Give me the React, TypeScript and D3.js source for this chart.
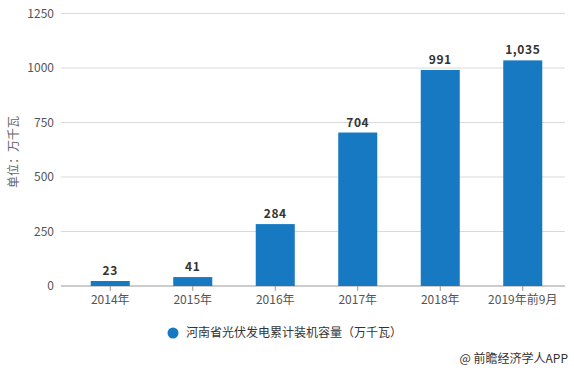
import React from 'react';
import * as d3 from 'd3';

const years = ['2014年', '2015年', '2016年', '2017年', '2018年', '2019年前9月'];
const capacity = [23, 41, 284, 704, 991, 1035];
const yTicks = [0, 250, 500, 750, 1000, 1250];
const seriesName = '河南省光伏发电累计装机容量（万千瓦）';
const unitLabel = '单位：万千瓦';
const sourceLabel = '@ 前瞻经济学人APP';

const W = 574;
const H = 370;
const FONT = '"Noto Sans CJK SC", "Microsoft YaHei", sans-serif';

const App = () => {
  // scales
  const x = d3.scaleBand<string>()
    .domain(years)
    .range([69, 564])
    .paddingInner(0.527)
    .paddingOuter(0.2635);

  const y = d3.scaleLinear()
    .domain([0, 1250])
    .range([286, 13.5]);

  const fmt = d3.format(',');

  return (
    <svg width={W} height={H} style={{ position: 'absolute', left: 0, top: 0, background: '#fff' }} fontFamily={FONT}>
      {/* gridlines */}
      {yTicks.map(t => (
        <line key={t} x1={61} x2={565} y1={y(t)} y2={y(t)}
          stroke={t === 0 ? '#999' : '#d9d9d9'} strokeWidth={1} />
      ))}
      {/* y tick labels */}
      {yTicks.map(t => (
        <text key={'l' + t} x={54} y={y(t)} dy="0.35em" textAnchor="end" fontSize={12} fill="#555">{t}</text>
      ))}
      {/* y axis title */}
      <text transform={`translate(14,152) rotate(-90)`} textAnchor="middle" dy="0.35em" fontSize={12} fill="#666">{unitLabel}</text>

      {/* bars */}
      {capacity.map((v, i) => (
        <rect key={years[i]} x={x(years[i])} y={y(v)} width={x.bandwidth()} height={y(0) - y(v)} fill="#1879c3" />
      ))}
      {/* value labels */}
      {capacity.map((v, i) => (
        <text key={'v' + i} x={(x(years[i]) as number) + x.bandwidth() / 2} y={y(v) - 6}
          textAnchor="middle" fontSize={12} fontWeight="bold" letterSpacing={0.6} fill="#333">{fmt(v)}</text>
      ))}
      {/* x ticks */}
      {years.map(c => {
        const cx = (x(c) as number) + x.bandwidth() / 2;
        return (
          <g key={'t' + c}>
            <line x1={cx} x2={cx} y1={286} y2={291} stroke="#999" />
            <text x={cx} y={300} dy="0.35em" textAnchor="middle" fontSize={12} fill="#555">{c}</text>
          </g>
        );
      })}

      {/* legend */}
      <circle cx={173} cy={333} r={5.5} fill="#1879c3" />
      <text x={186} y={333} dy="0.35em" fontSize={12} fill="#333">{seriesName}</text>

      {/* source */}
      <text x={568} y={359} dy="0.35em" textAnchor="end" fontSize={12} fill="#333">{sourceLabel}</text>
    </svg>
  );
};

export default App;
